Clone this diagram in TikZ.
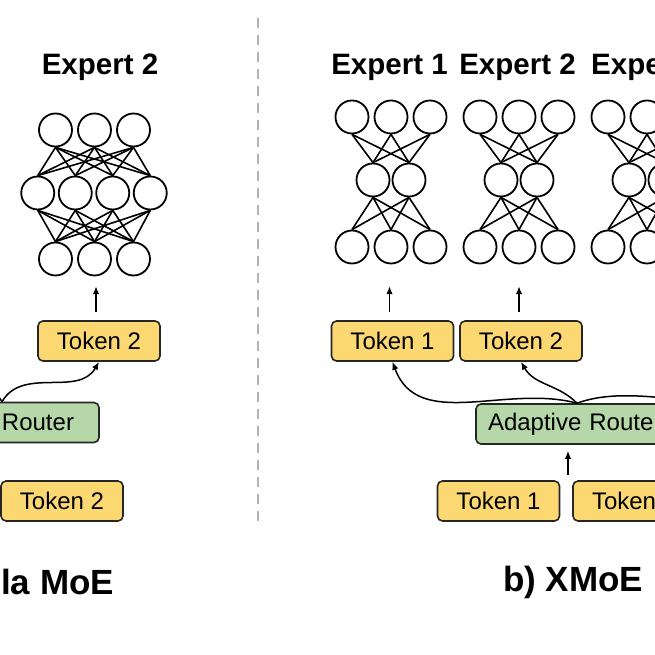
\documentclass[tikz,border=0pt]{standalone}
\usepackage{fontspec}
\setmainfont{Liberation Sans}
\usetikzlibrary{calc,arrows.meta}
\definecolor{tokyellow}{HTML}{FBD872}
\definecolor{routgreen}{HTML}{B6D7A8}
\tikzset{
  token/.style={draw=black!85, rounded corners=5pt, fill=tokyellow, line width=1.6pt,
    minimum width=122pt, minimum height=40pt, inner sep=0pt,
    font=\fontsize{24}{24}\selectfont},
  router/.style={token, fill=routgreen},
  neuron/.style={draw, circle, line width=1.8pt, minimum size=33pt, inner sep=0pt},
  link/.style={line width=1.6pt},
  title/.style={font=\bfseries\fontsize{29.5}{29.5}\selectfont},
  caption/.style={font=\bfseries\fontsize{35}{35}\selectfont},
  arw/.style={-{Latex[length=8pt,width=6.5pt]}, line width=1.5pt},
}

\begin{document}
\begin{tikzpicture}[x=1pt,y=1pt]
                    \useasboundingbox (0,0) rectangle (655,655);
                    \clip (0,0) rectangle (655,655);
                    \draw[gray!60, line width=2.6pt, dash pattern=on 10pt off 7pt] (258,637) -- (258,133);
                    % vanilla expert
                    \foreach \i/\x in {1/55.5,2/94.5,3/133.5} {
                        \node[neuron] (lt\i) at (\x,525) {};
                        \node[neuron] (lb\i) at (\x,396) {};
                    }
                    \foreach \j/\x in {1/37.75,2/75.25,3/112.75,4/150.25}
                        \node[neuron] (lm\j) at (\x,462) {};
                    \foreach \i in {1,2,3}
                        \foreach \j in {1,...,4} {
                            \draw[link] (lt\i.south) -- (lm\j.north);
                            \draw[link] (lm\j.south) -- (lb\i.north);
                        }
                    % xmoe experts
                    \foreach \e/\c in {1/391,2/519,3/647} {
                        \foreach \i/\d in {1/-39,2/0,3/39} {
                            \node[neuron] (t\e\i) at (\c+\d,538) {};
                            \node[neuron] (b\e\i) at (\c+\d,408) {};
                        }
                        \foreach \j/\d in {1/-18,2/18}
                            \node[neuron] (m\e\j) at (\c+\d,475) {};
                        \foreach \i in {1,2,3}
                            \foreach \j in {1,2} {
                                \draw[link] (t\e\i.south) -- (m\e\j.north);
                                \draw[link] (m\e\j.south) -- (b\e\i.north);
                            }
                    }
                    \node[title] (expl2) at (100,588) {Expert 2};
                    \node[title] (expr1) at (389.5,588) {Expert 1};
                    \node[title] (expr2) at (517.5,588) {Expert 2};
                    \node[title, anchor=west, inner xsep=0pt] (expr3) at (591,588) {Expe};
                    % tokens and routers
                    \node[token] (outl2) at (99,314) {Token 2};
                    \node[router] (rtl) at (38,232.5) {Router};
                    \node[token] (inl2) at (62,154) {Token 2};
                    \node[token] (outr1) at (392.5,314) {Token 1};
                    \node[token] (outr2) at (521,314) {Token 2};
                    \node[router, minimum width=190pt, text width=166pt, align=left] (rtr) at (571,231) {Adaptive Route};
                    \node[token] (inr1) at (498.5,154) {Token 1};
                    \node[token, text width=84pt, align=left] (inr3) at (634,154) {Token};
                    \coordinate (outl1) at (-90,294);
                    \coordinate (outr3) at (761,294);
                    \coordinate (inmid) at (568,180);
                    \draw[arw] ([xshift=-3pt,yshift=8pt]outl2.north) -- ++(0,26);
                    \draw[arw] ([xshift=-3pt,yshift=8pt]outr1.north) -- ++(0,26);
                    \draw[arw] ([xshift=-2pt,yshift=8pt]outr2.north) -- ++(0,26);
                    \draw[arw, shorten >=6pt] (inmid) -- (inmid |- rtr.south);
                    \draw[arw] ([xshift=-36pt]rtl.north) to[out=60, in=-120] (outl2.south);
                    \draw[arw] ([xshift=-36pt]rtl.north) to[out=120, in=-60] (outl1);
                    \draw[arw] ([xshift=6pt]rtr.north) to[out=165, in=-70] (outr1.south);
                    \draw[arw] ([xshift=6pt]rtr.north) to[out=135, in=-60] (outr2.south);
                    \draw[arw] ([xshift=6pt]rtr.north) to[out=20, in=-110] (outr3);
                    \node[caption, anchor=west, inner xsep=0pt] (capl) at (1,73) {la MoE};
                    \node[caption] (capr) at (573,73) {b) XMoE};
                \end{tikzpicture}
\end{document}
